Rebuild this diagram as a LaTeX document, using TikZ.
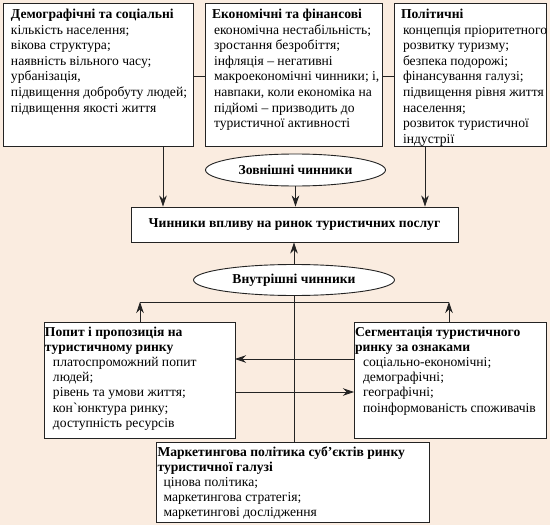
\documentclass[tikz,border=0pt]{standalone}
\usepackage{fontspec}
\setmainfont{Liberation Serif}
\newfontfamily\rawserif{Liberation Serif}
\usetikzlibrary{arrows.meta,shapes.geometric}
\definecolor{bg}{RGB}{250,236,224}
\definecolor{ln}{RGB}{35,35,35}
\newcommand{\bxc}[5]{\parbox[t][#2][t]{#1}{\vspace*{#3}\hspace*{#4}\begin{tabular}[t]{@{}l@{}}#5\end{tabular}}}
\newcommand{\indA}{\hspace*{2pt}}
\newcommand{\indB}{\hspace*{8pt}}
\newcommand{\grv}{{\rawserif\symbol{96}}}
\begin{document}
\begin{tikzpicture}[x=1pt,y=-1pt,
  box/.style={draw=ln,line width=0.9pt,fill=white,inner sep=0pt,outer sep=0pt,anchor=north west,
    font=\fontsize{13.6}{15.6}\selectfont},
  lowbox/.style={box,font=\fontsize{13.6}{15.1}\selectfont},
  oval/.style={draw=ln,line width=0.9pt,fill=white,ellipse,inner sep=0pt,
    font=\fontsize{13.6}{15.6}\selectfont\bfseries},
  mainbox/.style={draw=ln,line width=0.9pt,fill=white,inner sep=0pt,
    font=\fontsize{13.6}{15.6}\selectfont\bfseries},
  conn/.style={draw=ln,line width=0.8pt},
  arr/.style={conn,-{Stealth[length=11pt,width=7.5pt,inset=3.5pt]}}]
\useasboundingbox (0,0) rectangle (550,525);
\fill[bg] (0,0) rectangle (550,525);

\node[box] (A) at (3,3) {\bxc{190pt}{143pt}{4.5pt}{8pt}{%
\textbf{Демографічні та соціальні}\\
кількість населення;\\
вікова структура;\\
наявність вільного часу;\\
урбанізація,\\
підвищення добробуту людей;\\
підвищення якості життя}};

\node[box] (B) at (205,3) {\bxc{177pt}{143pt}{4.5pt}{7pt}{%
\textbf{Економічні та фінансові}\\
\indA економічна нестабільність;\\
\indA зростання безробіття;\\
\indA інфляція – негативні\\
\indA макроекономічні чинники; і,\\
\indA навпаки, коли економіка на\\
\indA підйомі – призводить до\\
\indA туристичної активності}};

\node[box] (C) at (394,3) {\bxc{152pt}{143pt}{4.5pt}{7pt}{%
\textbf{Політичні}\\
\indA концепція пріоритетного\\
\indA розвитку туризму;\\
\indA безпека подорожі;\\
\indA фінансування галузі;\\
\indA підвищення рівня життя\\
\indA населення;\\
\indA розвиток туристичної\\
\indA індустрії}};

\node[oval,minimum width=180pt,minimum height=32pt] (Z) at (295.5,170) {Зовнішні чинники};
\node[mainbox,minimum width=327pt,minimum height=35pt] (M) at (294.5,224.5) {Чинники впливу на ринок туристичних послуг};
\node[oval,minimum width=201pt,minimum height=31pt] (I) at (294,280) {Внутрішні чинники};

\node[lowbox] (L) at (44,322) {\bxc{191pt}{116pt}{4pt}{1pt}{%
\textbf{Попит і пропозиція на}\\
\textbf{туристичному ринку}\\
\indB платоспроможний попит\\
\indB людей;\\
\indB рівень та умови життя;\\
\indB кон\grv юнктура ринку;\\
\indB доступність ресурсів}};

\node[lowbox] (R) at (354,322) {\bxc{192pt}{116pt}{4pt}{1pt}{%
\textbf{Сегментація туристичного}\\
\textbf{ринку за ознаками}\\
\indB соціально-економічні;\\
\indB демографічні;\\
\indB географічні;\\
\indB поінформованість споживачів}};

\node[lowbox] (K) at (156,442) {\bxc{273pt}{80pt}{3.5pt}{1.5pt}{%
\textbf{Маркетингова політика суб’єктів ринку}\\
\textbf{туристичної галузі}\\
\hspace*{6pt}цінова політика;\\
\hspace*{6pt}маркетингова стратегія;\\
\hspace*{6pt}маркетингові дослідження}};

% top links between boxes
\coordinate (t1) at (0,76);
\draw[conn] (A.east |- t1) -- (B.west |- t1);
\draw[conn] (B.east |- t1) -- (C.west |- t1);

% arrows into main box
\coordinate (xa) at (163,0);
\coordinate (xc) at (425,0);
\draw[arr] (xa |- A.south) -- (xa |- M.north);
\draw[arr] (Z.south) -- (Z.south |- M.north);
\draw[arr] (xc |- C.south) -- (xc |- M.north);
\draw[arr] (I.north) -- (I.north |- M.south);

% lower tree
\draw[conn] (I.south) -- (I.south |- K.north);
\coordinate (hl) at (140,302);
\coordinate (hr) at (449,302);
\draw[conn] (hl) -- (hr);
\draw[arr] (hl |- L.north) -- (hl);
\draw[arr] (hr |- R.north) -- (hr);
\coordinate (y1) at (0,359);
\coordinate (y2) at (0,392);
\draw[arr] (R.west |- y1) -- (L.east |- y1);
\draw[arr] (L.east |- y2) -- (R.west |- y2);
\end{tikzpicture}
\end{document}
